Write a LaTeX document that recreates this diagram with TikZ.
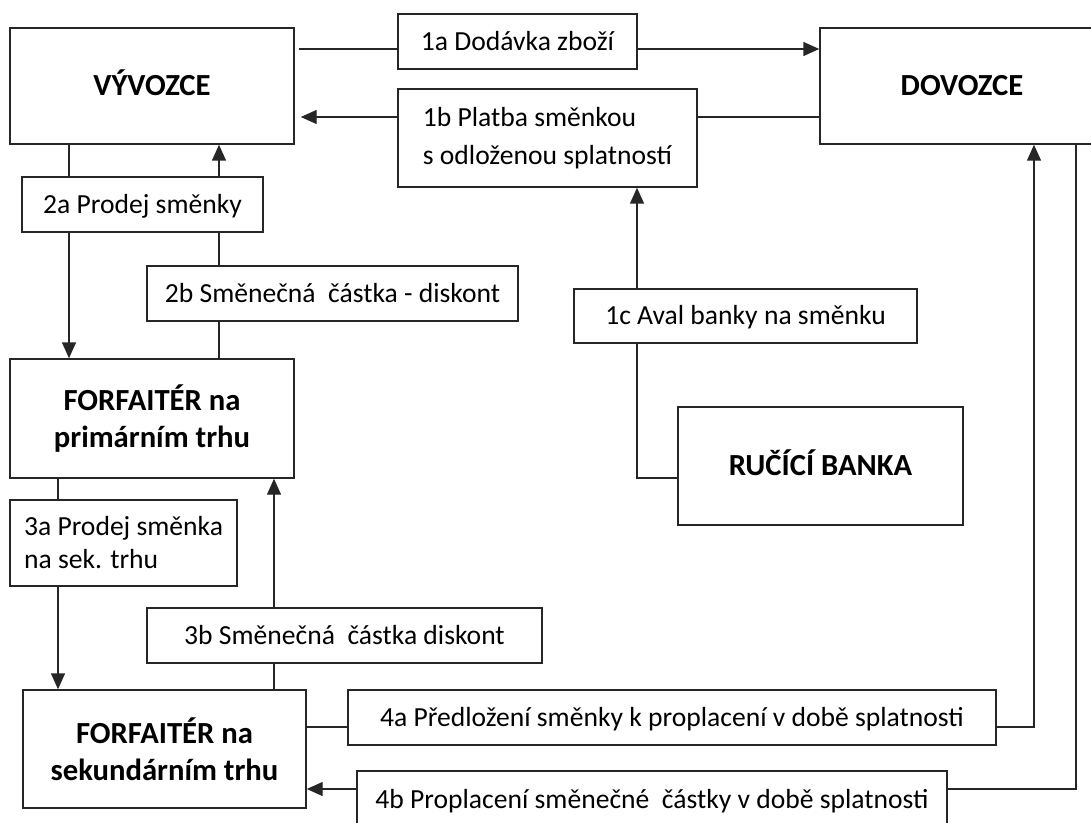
\documentclass[tikz,border=0pt]{standalone}
\usepackage{fontspec}
\setmainfont{Carlito}
\usetikzlibrary{calc,backgrounds,arrows.meta}
\tikzstyle{party}=[rectangle, draw=black!85, line width=1.1pt, fill=white, align=center, text=black, inner sep=0pt, minimum width=213pt, minimum height=87pt, font=\bfseries\fontsize{23}{27.75}\selectfont]
\tikzstyle{flow}=[rectangle, draw=black!85, line width=1.1pt, fill=white, align=center, text=black, inner sep=0pt, minimum height=41.25pt, font=\fontsize{20.7}{28.5}\selectfont]
\tikzstyle{capbold}=[text height=14.8pt, text depth=0pt]
\tikzstyle{capreg}=[text height=13.3pt, text depth=0pt]
\tikzstyle{link}=[->, draw=black!85, line width=1.1pt]
\tikzset{>={Triangle[length=12pt,width=10.5pt]}}

\begin{document}
\begin{tikzpicture}[x=0.75pt, y=-0.75pt]
        \useasboundingbox (0,0) rectangle (1091,823);

        % parties
        \node(vyv)[party, capbold] at (152,86) {VÝVOZCE};
        \node(dov)[party, capbold] at (962,86) {DOVOZCE};
        \node(fprim)[party, minimum height=89.25pt] at (152,418.5) {FORFAITÉR na\\primárním trhu};
        \node(banka)[party, capbold, minimum width=213.75pt, minimum height=88.5pt] at (820.5,466) {RUČÍCÍ BANKA};
        \node(fsek)[party, minimum width=212.25pt, minimum height=88.5pt] at (164.5,749) {FORFAITÉR na\\sekundárním trhu};

        % steps
        \node(l1a)[flow, capreg, minimum width=179.25pt] at (517.5,41.5) {1a Dodávka zboží};
        \node(l1b)[flow, align=left, minimum width=224.25pt, minimum height=73.5pt] at (547.5,138) {1b Platba směnkou\\s odloženou splatností};
        \node(l2a)[flow, capreg, minimum width=180.75pt] at (142.5,204.5) {2a Prodej směnky};
        \node(l2b)[flow, capreg, minimum width=278.25pt] at (332.5,293.5) {2b Směnečná~ částka - diskont};
        \node(l1c)[flow, capreg, minimum width=257.25pt, minimum height=40.5pt] at (745.5,316) {1c Aval banky na směnku};
        \node(l3a)[flow, align=left, minimum width=170.25pt, minimum height=64.5pt, font=\fontsize{20.7}{24.75}\selectfont] at (123.5,543) {3a Prodej směnka\\na sek. trhu};
        \node(l3b)[flow, capreg, minimum width=296.25pt] at (344.5,635.5) {3b Směnečná~ částka diskont};
        \node(l4a)[flow, capreg, minimum width=486pt] at (672,717.5) {4a Předložení směnky k proplacení v době splatnosti};
        \node(l4b)[flow, capreg, minimum width=442.5pt, minimum height=43.5pt] at (652,800) {4b Proplacení směnečné~ částky v době splatnosti};

        \begin{pgfonlayer}{background}
        \fill[white] (0,0) rectangle (1091,823);
        \draw[link] ($(vyv.east)+(4,-37)$) -- ($(dov.west)+(0,-37)$);
        \draw[link] ($(dov.west)+(0,31)$) -- ($(vyv.east)+(6,31)$);
        \draw[link] ($(vyv.south)+(-83,0)$) -- ($(fprim.north)+(-83,0)$);
        \draw[link] ($(fprim.north)+(67,0)$) -- ($(vyv.south)+(67,0)$);
        \draw[link] ($(banka.west)+(0,12)$) -| ($(l1b.south)+(89.5,0)$);
        \draw[link] ($(fprim.south)+(-94,0)$) -- ($(fsek.north)+(-106.5,0)$);
        \draw[link] ($(fsek.north)+(109.5,0)$) -- ($(fprim.south)+(122,0)$);
        \draw[link] ($(fsek.east)+(0,-22)$) -| ($(dov.south)+(72,0)$);
        \draw[link] ($(dov.south)+(114,0)$) |- ($(fsek.east)+(0,40)$);
        \end{pgfonlayer}
\end{tikzpicture}
\end{document}
